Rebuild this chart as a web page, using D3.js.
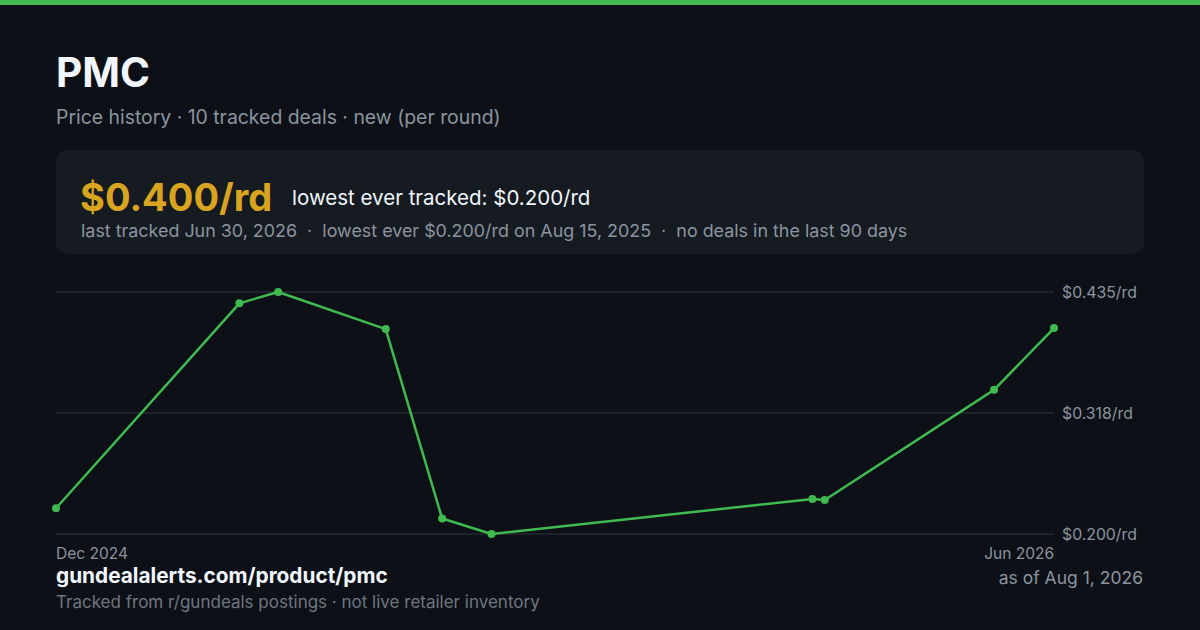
<!DOCTYPE html>
<html lang="en">
<head>
<meta charset="utf-8">
<title>PMC price history</title>
<script src="https://cdn.jsdelivr.net/npm/d3@7"></script>
<style>
  html, body { margin: 0; padding: 0; background: #0d1117; }
  svg { display: block; font-family: Inter, "Noto Sans", sans-serif; }
</style>
</head>
<body>
<div id="chart"></div>
<script>
// deal dates and per-round prices
const dealDates = ["2024-12-11", "2025-03-25", "2025-04-16", "2025-06-16", "2025-07-18",
                   "2025-08-15", "2026-02-13", "2026-02-20", "2026-05-27", "2026-06-30"];
const dealPrices = [0.225, 0.424, 0.435, 0.399, 0.215, 0.200, 0.234, 0.233, 0.340, 0.400];
const yTicks = [0.200, 0.3175, 0.435];
const xTickLabels = ["Dec 2024", "Jun 2026"];

const W = 1200, H = 630;
const margin = { left: 56, right: 146, top: 292, bottom: 534 };

const parse = d3.timeParse("%Y-%m-%d");
const data = dealDates.map((d, i) => ({ date: parse(d), price: dealPrices[i] }));

const svg = d3.select("#chart").append("svg")
  .attr("width", W).attr("height", H);

svg.append("rect").attr("width", W).attr("height", H).attr("fill", "#0d1117");
svg.append("rect").attr("width", W).attr("height", 5).attr("fill", "#3fb950");

// header
svg.append("text").attr("x", 56).attr("y", 87)
  .attr("fill", "#f0f6fc").attr("font-size", 40.5).attr("font-weight", 700)
  .text("PMC");
svg.append("text").attr("x", 56).attr("y", 124)
  .attr("fill", "#8b949e").attr("font-size", 19.4)
  .text("Price history · 10 tracked deals · new (per round)");

// summary card
svg.append("rect").attr("x", 56).attr("y", 150).attr("width", 1088).attr("height", 104)
  .attr("rx", 12).attr("fill", "#161b22");
svg.append("text").attr("x", 80).attr("y", 211)
  .attr("fill", "#d9a521").attr("font-size", 38).attr("font-weight", 700)
  .text("$0.400/rd");
svg.append("text").attr("x", 292).attr("y", 205)
  .attr("fill", "#f0f6fc").attr("font-size", 20.5)
  .text("lowest ever tracked: $0.200/rd");
svg.append("text").attr("x", 81).attr("y", 237)
  .attr("fill", "#8b949e").attr("font-size", 17.9)
  .attr("xml:space", "preserve")
  .text("last tracked Jun 30, 2026  ·  lowest ever $0.200/rd on Aug 15, 2025  ·  no deals in the last 90 days");

// scales
const x = d3.scaleTime()
  .domain(d3.extent(data, d => d.date))
  .range([margin.left, W - margin.right]);
const y = d3.scaleLinear()
  .domain([0.200, 0.435])
  .range([margin.bottom, margin.top]);

// gridlines + y labels
const grid = svg.append("g");
grid.selectAll("line").data(yTicks).join("line")
  .attr("x1", margin.left).attr("x2", W - margin.right)
  .attr("y1", d => y(d)).attr("y2", d => y(d))
  .attr("stroke", "#30363d").attr("stroke-width", 1);
grid.selectAll("text").data(yTicks).join("text")
  .attr("x", W - margin.right + 8).attr("y", d => y(d))
  .attr("dy", "0.35em")
  .attr("fill", "#8b949e").attr("font-size", 15.8)
  .text(d => "$" + d3.format(".3f")(d) + "/rd");

// x labels at first and last deal
const ends = [data[0].date, data[data.length - 1].date];
svg.append("g").selectAll("text").data(ends).join("text")
  .attr("x", d => x(d)).attr("y", 559)
  .attr("text-anchor", (d, i) => i === 0 ? "start" : "end")
  .attr("fill", "#8b949e").attr("font-size", 15.5)
  .text((d, i) => xTickLabels[i]);

// line + dots
const line = d3.line().x(d => x(d.date)).y(d => y(d.price));
svg.append("path").datum(data)
  .attr("d", line)
  .attr("fill", "none").attr("stroke", "#3fb950")
  .attr("stroke-width", 2.5).attr("stroke-linejoin", "round");
svg.append("g").selectAll("circle").data(data).join("circle")
  .attr("cx", d => x(d.date)).attr("cy", d => y(d.price))
  .attr("r", 4).attr("fill", "#3fb950");

// footer
svg.append("text").attr("x", 56).attr("y", 583)
  .attr("fill", "#f0f6fc").attr("font-size", 20.8).attr("font-weight", 700)
  .text("gundealalerts.com/product/pmc");
svg.append("text").attr("x", 1143).attr("y", 584)
  .attr("text-anchor", "end")
  .attr("fill", "#8b949e").attr("font-size", 17.5)
  .text("as of Aug 1, 2026");
svg.append("text").attr("x", 56).attr("y", 608)
  .attr("fill", "#6e7681").attr("font-size", 17)
  .text("Tracked from r/gundeals postings · not live retailer inventory");
</script>
</body>
</html>
